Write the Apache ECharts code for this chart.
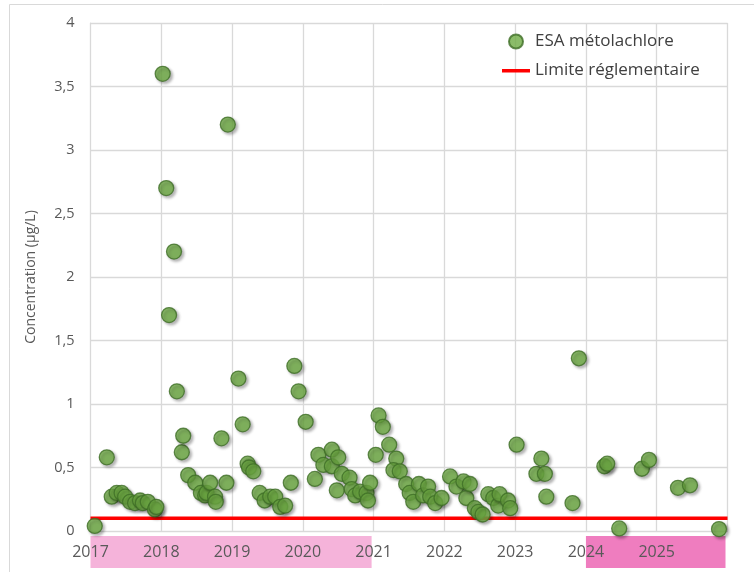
<!DOCTYPE html>
<html>
<head>
<meta charset="utf-8">
<script src="https://cdn.jsdelivr.net/npm/echarts@6/dist/echarts.min.js"></script>
<style>
html,body{margin:0;padding:0;background:#fff;}
#chart{width:754px;height:572px;}
</style>
</head>
<body>
<div id="chart"></div>
<script>
// ---- data ----
const sampleYears = [
  2017.06,2017.23,2017.30,2017.37,2017.44,2017.49,2017.56,2017.63,2017.70,2017.74,2017.81,2017.91,2017.93,
  2018.02,2018.07,2018.11,2018.18,2018.22,2018.29,2018.31,2018.38,2018.48,2018.56,2018.62,2018.64,2018.69,2018.76,2018.77,2018.85,2018.92,2018.94,
  2019.09,2019.15,2019.22,2019.24,2019.30,2019.39,2019.46,2019.54,2019.61,2019.68,2019.75,2019.83,2019.88,2019.94,
  2020.04,2020.17,2020.22,2020.29,2020.41,2020.41,2020.50,2020.48,2020.55,2020.66,2020.69,2020.74,2020.81,2020.90,2020.95,2020.92,
  2021.03,2021.07,2021.13,2021.22,2021.32,2021.28,2021.37,2021.46,2021.51,2021.56,2021.64,2021.70,2021.77,2021.80,2021.87,2021.96,
  2022.08,2022.17,2022.27,2022.31,2022.36,2022.43,2022.48,2022.54,2022.62,2022.69,2022.76,2022.78,2022.90,2022.93,
  2023.02,2023.30,2023.37,2023.42,2023.44,2023.81,2023.90,
  2024.26,2024.30,2024.47,2024.79,2024.89,
  2025.30,2025.47,2025.88
];
const esaValues = [
  0.04,0.58,0.27,0.30,0.30,0.27,0.23,0.22,0.24,0.22,0.23,0.17,0.19,
  3.6,2.7,1.7,2.2,1.1,0.62,0.75,0.44,0.38,0.30,0.28,0.30,0.38,0.27,0.23,0.73,0.38,3.2,
  1.2,0.84,0.53,0.50,0.47,0.30,0.24,0.27,0.27,0.19,0.20,0.38,1.3,1.1,
  0.86,0.41,0.60,0.52,0.64,0.51,0.58,0.32,0.45,0.42,0.33,0.28,0.31,0.30,0.38,0.24,
  0.60,0.91,0.82,0.68,0.57,0.48,0.47,0.37,0.30,0.23,0.37,0.28,0.35,0.27,0.22,0.26,
  0.43,0.35,0.39,0.26,0.37,0.18,0.15,0.13,0.29,0.26,0.20,0.29,0.24,0.18,
  0.68,0.45,0.57,0.45,0.27,0.22,1.36,
  0.51,0.53,0.02,0.49,0.56,
  0.34,0.36,0.015
];
const limitYears = [2017, 2026];
const limitValues = [0.1, 0.1];
const seriesNames = ['ESA métolachlore', 'Limite réglementaire'];
const yAxisName = 'Concentration (µg/L)';
const xMin = 2017, xMax = 2026, xStep = 1;
const yMin = 0, yMax = 4, yStep = 0.5;
const bandStarts = [2017, 2024];
const bandEnds = [2021, 2026];

// ---- chart ----
const FONT = '"Open Sans", Lato, sans-serif';
const chart = echarts.init(document.getElementById('chart'), null, {renderer: 'canvas'});
const scatterData = sampleYears.map((y, i) => [y, esaValues[i]]);
const limitData = limitYears.map((y, i) => [y, limitValues[i]]);

chart.setOption({
  animation: false,
  backgroundColor: '#ffffff',
  textStyle: {fontFamily: FONT},
  grid: {left: 90.5, right: 26.5, top: 23, bottom: 41, containLabel: false},
  legend: {
    orient: 'vertical',
    left: 497, top: 28,
    itemWidth: 28, itemHeight: 14, itemGap: 12,
    textStyle: {fontFamily: FONT, fontSize: 17, color: '#404040'},
    data: [
      {name: seriesNames[0], icon: 'circle'},
      {name: seriesNames[1], icon: 'path://M0,0 M0,5.5 L28,5.5 L28,9 L0,9 Z M28,14',
       itemStyle: {color: '#ff0000'}}
    ]
  },
  xAxis: {
    type: 'value', min: xMin, max: xMax, interval: xStep,
    axisLine: {show: true, lineStyle: {color: '#d9d9d9', width: 1}},
    axisTick: {show: false},
    splitLine: {show: true, lineStyle: {color: '#d9d9d9', width: 1.3}},
    axisLabel: {
      color: '#595959', fontSize: 16, fontFamily: FONT, margin: 13,
      formatter: v => (v >= xMax ? '' : String(Math.round(v)))
    }
  },
  yAxis: {
    type: 'value', min: yMin, max: yMax, interval: yStep,
    name: yAxisName, nameLocation: 'middle', nameGap: 52, nameRotate: 90,
    nameTextStyle: {color: '#595959', fontSize: 14, fontFamily: FONT},
    axisLine: {show: true, lineStyle: {color: '#d9d9d9', width: 1}},
    axisTick: {show: false},
    splitLine: {show: true, lineStyle: {color: '#d9d9d9', width: 1.3}},
    axisLabel: {
      color: '#595959', fontSize: 14.5, fontFamily: FONT, margin: 16,
      formatter: v => String(v).replace('.', ',')
    }
  },
  series: [
    {
      name: seriesNames[1], type: 'line', data: limitData,
      symbol: 'none', z: 2,
      lineStyle: {color: '#ff0000', width: 3.5},
      itemStyle: {color: '#ff0000'}
    },
    {
      name: seriesNames[0], type: 'scatter', data: scatterData,
      symbol: 'circle', symbolSize: 15, z: 3,
      itemStyle: {
        color: '#6eab44', borderColor: '#3f6e27', borderWidth: 1.3,
        shadowBlur: 3, shadowOffsetX: 2, shadowOffsetY: 2, shadowColor: 'rgba(0,0,0,0.35)'
      }
    }
  ]
});

// pink year bands below the axis, positioned through the x axis scale
const bandColors = ['#f5b3da', '#ef7dbf'];
const axisBottom = chart.convertToPixel({yAxisIndex: 0}, yMin);
const bands = bandStarts.map((s, i) => {
  const x0 = chart.convertToPixel({xAxisIndex: 0}, s);
  const x1 = chart.convertToPixel({xAxisIndex: 0}, bandEnds[i]);
  return {
    type: 'rect', z: -10, silent: true,
    shape: {x: x0, y: axisBottom + 5, width: x1 - x0 - 2, height: 32},
    style: {fill: bandColors[i]}
  };
});
bands.push({
  type: 'rect', z: -10, silent: true,
  shape: {x: 9.5, y: 4.5, width: 800, height: 600},
  style: {fill: 'none', stroke: '#d9d9d9', lineWidth: 1}
});
chart.setOption({graphic: bands});
</script>
</body>
</html>
